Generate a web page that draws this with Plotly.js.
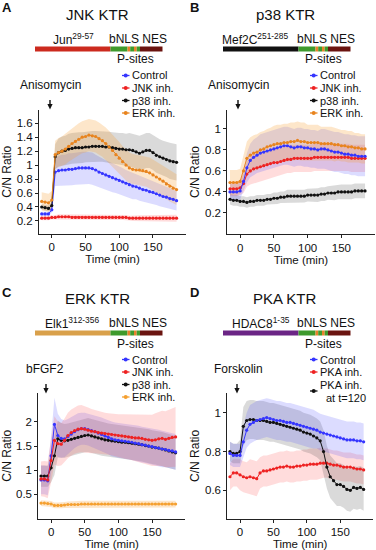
<!DOCTYPE html>
<html><head><meta charset="utf-8">
<script src="https://cdn.plot.ly/plotly-3.0.1.min.js"></script>
<style>html,body{margin:0;padding:0;background:#fff}#chart{width:376px;height:550px}</style>
</head><body><div id="chart"></div>
<script>
// ---------------- DATA ----------------
const time = [-15,-10,-5,0,5,10,15,20,25,30,35,40,45,50,55,60,65,70,75,80,85,90,95,100,105,110,115,120,125,130,135,140,145,150,155,160,165,170,175,180,185];
const xTicks = [0,50,100,150];

// Panel A: JNK KTR
const A_ctrl = [0.30,0.30,0.30,0.36, 0.90,0.92,0.93,0.93,0.94,0.94, 0.95,0.96,0.96,0.96,0.96, 0.95,0.93,0.90,0.88,0.86, 0.84,0.82,0.80,0.78,0.76, 0.74,0.72,0.70,0.69,0.67, 0.65,0.64,0.62,0.61,0.59, 0.57,0.55,0.54,0.52,0.51, 0.49];
const A_ctrl_sd = [0.03,0.03,0.03,0.04, 0.20,0.21,0.22,0.22,0.23,0.23, 0.23,0.23,0.23,0.23,0.23, 0.23,0.22,0.22,0.22,0.21, 0.21,0.21,0.20,0.20,0.20, 0.19,0.19,0.19,0.18,0.18, 0.18,0.17,0.17,0.17,0.16, 0.16,0.16,0.15,0.15,0.15, 0.14];
const A_jnk = [0.24,0.24,0.24,0.25, 0.25,0.26,0.26,0.26,0.26,0.25, 0.25,0.25,0.25,0.25,0.25, 0.25,0.25,0.25,0.25,0.25, 0.25,0.25,0.25,0.25,0.25, 0.25,0.24,0.24,0.24,0.24, 0.24,0.24,0.24,0.24,0.24, 0.24,0.24,0.24,0.24,0.24, 0.24];
const A_jnk_sd = [0.03,0.03,0.03,0.03, 0.03,0.035,0.035,0.035,0.035,0.035, 0.035,0.035,0.035,0.035,0.035, 0.035,0.035,0.035,0.035,0.035, 0.035,0.035,0.035,0.035,0.035, 0.035,0.035,0.04,0.04,0.04, 0.04,0.04,0.04,0.04,0.045, 0.045,0.045,0.045,0.05,0.05, 0.05];
const A_p38 = [0.40,0.39,0.38,0.42, 1.12,1.18,1.20,1.21,1.23,1.24, 1.25,1.25,1.25,1.26,1.26, 1.27,1.27,1.27,1.27,1.26, 1.26,1.25,1.24,1.23,1.23, 1.22,1.22,1.21,1.19,1.17, 1.19,1.21,1.21,1.18,1.14, 1.12,1.10,1.08,1.06,1.05, 1.04];
const A_p38_sd = [0.04,0.04,0.04,0.05, 0.18,0.20,0.21,0.21,0.22,0.22, 0.22,0.22,0.22,0.22,0.22, 0.22,0.22,0.22,0.22,0.22, 0.22,0.22,0.22,0.23,0.23, 0.23,0.24,0.24,0.24,0.25, 0.25,0.25,0.25,0.25,0.25, 0.25,0.25,0.25,0.26,0.26, 0.26];
const A_erk = [0.48,0.47,0.46,0.50, 1.15,1.18,1.20,1.23,1.27,1.31, 1.34,1.37,1.40,1.41,1.43, 1.42,1.41,1.38,1.35,1.31, 1.26,1.21,1.15,1.10,1.05, 1.00,0.96,0.94,0.93,0.93, 0.92,0.91,0.89,0.86,0.83, 0.80,0.77,0.73,0.70,0.67, 0.65];
const A_erk_sd = [0.13,0.13,0.13,0.13, 0.20,0.21,0.21,0.22,0.22,0.22, 0.23,0.23,0.23,0.23,0.23, 0.23,0.23,0.23,0.23,0.23, 0.23,0.23,0.23,0.23,0.22, 0.22,0.22,0.22,0.22,0.22, 0.22,0.22,0.22,0.22,0.22, 0.22,0.22,0.22,0.22,0.22, 0.22];

// Panel B: p38 KTR
const B_ctrl = [0.40,0.40,0.40,0.41, 0.50,0.63,0.70,0.73,0.75,0.77, 0.78,0.79,0.80,0.81,0.82, 0.83,0.84,0.84,0.83,0.82, 0.83,0.83,0.82,0.82,0.81, 0.81,0.80,0.81,0.81,0.80, 0.79,0.78,0.78,0.77,0.76, 0.76,0.75,0.75,0.74,0.74, 0.74];
const B_ctrl_sd = [0.08,0.08,0.08,0.08, 0.10,0.14,0.16,0.17,0.17,0.18, 0.18,0.18,0.18,0.18,0.18, 0.18,0.18,0.18,0.18,0.18, 0.18,0.18,0.18,0.18,0.18, 0.18,0.18,0.19,0.19,0.19, 0.19,0.19,0.19,0.19,0.19, 0.19,0.19,0.19,0.19,0.19, 0.19];
const B_jnk = [0.43,0.43,0.43,0.44, 0.48,0.57,0.60,0.62,0.63,0.64, 0.65,0.66,0.67,0.68,0.68, 0.69,0.70,0.71,0.71,0.72, 0.72,0.72,0.72,0.72,0.72, 0.73,0.73,0.73,0.73,0.73, 0.73,0.73,0.73,0.73,0.73, 0.73,0.72,0.72,0.72,0.72, 0.72];
const B_jnk_sd = [0.07,0.07,0.07,0.07, 0.09,0.12,0.13,0.14,0.14,0.14, 0.14,0.14,0.14,0.14,0.13, 0.13,0.13,0.13,0.13,0.13, 0.13,0.13,0.13,0.13,0.13, 0.13,0.13,0.13,0.13,0.13, 0.13,0.13,0.13,0.13,0.13, 0.13,0.13,0.13,0.13,0.13, 0.13];
const B_p38 = [0.33,0.32,0.32,0.31, 0.31,0.30,0.31,0.31,0.32,0.32, 0.32,0.33,0.33,0.34,0.34, 0.35,0.35,0.36,0.36,0.36, 0.36,0.36,0.36,0.37,0.37, 0.37,0.37,0.38,0.38,0.39, 0.39,0.39,0.40,0.40,0.40, 0.40,0.40,0.41,0.41,0.41, 0.41];
const B_p38_sd = [0.05,0.05,0.05,0.05, 0.05,0.05,0.05,0.05,0.05,0.05, 0.05,0.05,0.05,0.055,0.055, 0.055,0.055,0.06,0.06,0.06, 0.06,0.06,0.06,0.06,0.06, 0.065,0.065,0.065,0.065,0.065, 0.07,0.07,0.07,0.07,0.07, 0.07,0.07,0.07,0.07,0.07, 0.07];
const B_erk = [0.49,0.49,0.49,0.50, 0.60,0.72,0.75,0.77,0.78,0.80, 0.81,0.83,0.84,0.85,0.86, 0.86,0.87,0.87,0.88,0.88, 0.89,0.88,0.88,0.87,0.87, 0.87,0.87,0.86,0.86,0.86, 0.86,0.85,0.85,0.84,0.84, 0.83,0.83,0.82,0.82,0.81, 0.81];
const B_erk_sd = [0.12,0.12,0.12,0.12, 0.14,0.16,0.17,0.17,0.17,0.17, 0.17,0.17,0.17,0.18,0.18, 0.18,0.18,0.18,0.18,0.18, 0.18,0.18,0.18,0.17,0.17, 0.17,0.17,0.16,0.16,0.16, 0.16,0.16,0.15,0.15,0.15, 0.15,0.15,0.14,0.14,0.14, 0.14];

// Panel C: ERK KTR
const C_ctrl = [0.80,0.80,0.78,1.30, 1.95,1.72,1.66,1.65,1.70,1.75, 1.80,1.84,1.86,1.86,1.84, 1.82,1.80,1.77,1.74,1.71, 1.68,1.65,1.63,1.62,1.61, 1.60,1.59,1.58,1.56,1.55, 1.53,1.52,1.50,1.49,1.47, 1.46,1.44,1.43,1.41,1.40, 1.38];
const C_ctrl_sd = [0.30,0.30,0.30,0.40, 0.55,0.45,0.40,0.38,0.36,0.35, 0.34,0.34,0.33,0.33,0.33, 0.33,0.34,0.34,0.35,0.35, 0.35,0.36,0.36,0.36,0.36, 0.36,0.37,0.37,0.37,0.37, 0.37,0.37,0.37,0.38,0.38, 0.38,0.38,0.37,0.37,0.37, 0.37];
const C_jnk = [0.82,0.82,0.80,1.20, 1.62,1.55,1.54,1.62,1.72,1.78, 1.82,1.85,1.86,1.85,1.83, 1.81,1.80,1.78,1.77,1.76, 1.75,1.74,1.73,1.72,1.71, 1.70,1.69,1.68,1.67,1.67, 1.66,1.64,1.63,1.62,1.63, 1.65,1.66,1.64,1.66,1.68, 1.69];
const C_jnk_sd = [0.36,0.37,0.38,0.45, 0.50,0.46,0.44,0.45,0.47,0.48, 0.48,0.49,0.49,0.48,0.47, 0.46,0.45,0.44,0.43,0.43, 0.43,0.43,0.44,0.44,0.45, 0.46,0.46,0.47,0.48,0.49, 0.50,0.51,0.52,0.53,0.55, 0.56,0.57,0.58,0.59,0.61, 0.62];
const C_p38 = [0.88,0.88,0.88,1.05, 1.30,1.65,1.62,1.61,1.62,1.64, 1.66,1.68,1.70,1.72,1.73, 1.71,1.69,1.67,1.65,1.63, 1.62,1.61,1.60,1.59,1.58, 1.58,1.57,1.56,1.55,1.54, 1.53,1.51,1.50,1.48,1.47, 1.46,1.44,1.42,1.40,1.38, 1.36];
const C_p38_sd = [0.22,0.22,0.22,0.30, 0.40,0.38,0.36,0.35,0.35,0.35, 0.35,0.35,0.35,0.35,0.35, 0.35,0.35,0.35,0.35,0.35, 0.35,0.35,0.35,0.35,0.35, 0.35,0.35,0.35,0.35,0.35, 0.35,0.35,0.35,0.35,0.35, 0.35,0.35,0.35,0.35,0.35, 0.35];
const C_erk = [0.32,0.32,0.31,0.30, 0.27,0.27,0.27,0.28,0.29,0.29, 0.29,0.29,0.30,0.30,0.30, 0.30,0.30,0.30,0.30,0.30, 0.30,0.30,0.30,0.30,0.30, 0.30,0.30,0.30,0.30,0.30, 0.30,0.30,0.30,0.30,0.30, 0.30,0.30,0.30,0.30,0.30, 0.30];
const C_erk_sd = [0.06,0.06,0.06,0.06, 0.06,0.06,0.06,0.06,0.06,0.06, 0.07,0.07,0.07,0.07,0.07, 0.07,0.07,0.07,0.07,0.07, 0.07,0.07,0.07,0.07,0.07, 0.07,0.07,0.07,0.07,0.07, 0.07,0.07,0.07,0.07,0.07, 0.07,0.07,0.07,0.07,0.07, 0.07];

// Panel D: PKA KTR
const D_ctrl = [0.79,0.78,0.78,0.78, 0.85,0.91,0.94,0.95,0.96,0.965, 0.97,0.975,0.97,0.965,0.96, 0.96,0.955,0.95,0.95,0.945, 0.94,0.935,0.93,0.925,0.92, 0.915,0.91,0.90,0.895,0.89, 0.885,0.88,0.875,0.87,0.865, 0.86,0.86,0.86,0.855,0.855, 0.85];
const D_ctrl_sd = [0.06,0.06,0.06,0.06, 0.08,0.09,0.10,0.10,0.10,0.10, 0.10,0.10,0.10,0.10,0.10, 0.10,0.10,0.10,0.10,0.10, 0.10,0.10,0.10,0.10,0.10, 0.10,0.095,0.095,0.095,0.095, 0.095,0.095,0.095,0.095,0.095, 0.095,0.095,0.095,0.095,0.095, 0.095];
const D_pka = [0.67,0.69,0.69,0.68, 0.67,0.665,0.67,0.665,0.66,0.69, 0.70,0.70,0.705,0.71,0.715, 0.72,0.72,0.725,0.72,0.72, 0.725,0.725,0.73,0.73,0.735, 0.735,0.735,0.74,0.74,0.74, 0.735,0.73,0.73,0.725,0.72, 0.72,0.72,0.715,0.71,0.71, 0.705];
const D_pka_sd = [0.07,0.07,0.07,0.08, 0.08,0.08,0.09,0.09,0.09,0.08, 0.08,0.08,0.08,0.08,0.08, 0.08,0.08,0.08,0.08,0.08, 0.08,0.08,0.08,0.08,0.08, 0.08,0.08,0.08,0.075,0.075, 0.075,0.075,0.075,0.075,0.075, 0.075,0.075,0.075,0.075,0.075, 0.075];
const D_pka120 = [0.80,0.79,0.79,0.80, 0.93,0.96,0.965,0.965,0.96,0.96, 0.96,0.955,0.95,0.95,0.945, 0.94,0.935,0.93,0.925,0.92, 0.915,0.91,0.90,0.895,0.89, 0.88,0.87,0.855,0.80,0.72, 0.67,0.65,0.63,0.63,0.62, 0.605,0.60,0.615,0.61,0.615, 0.605];
const D_pka120_sd = [0.05,0.05,0.05,0.06, 0.10,0.10,0.10,0.10,0.10,0.10, 0.10,0.10,0.10,0.10,0.10, 0.10,0.10,0.10,0.10,0.10, 0.10,0.10,0.10,0.10,0.10, 0.10,0.10,0.10,0.11,0.11, 0.11,0.11,0.11,0.11,0.11, 0.11,0.11,0.11,0.11,0.11, 0.11];

const legendA = ['Control','JNK inh.','p38 inh.','ERK inh.'];
const legendD = ['Control','PKA inh.','PKA inh.','at t=120'];
const titles = ['JNK KTR','p38 KTR','ERK KTR','PKA KTR'];
const domainLabels = ['Jun<sup>29-57</sup>','Mef2C<sup>251-285</sup>','Elk1<sup>312-356</sup>','HDAC8<sup>1-35</sup>'];
const stimuli = ['Anisomycin','Anisomycin','bFGF2','Forskolin'];
const letters = ['A','B','C','D'];

// ---------------- DRAWING ----------------
const W = 376, H = 550;
const px = x => x / W;
const py = y => 1 - y / H;
const FONT = 'Liberation Sans, Arial, Helvetica, sans-serif';
const COL = {blue:'#3535ff', red:'#ee2222', black:'#111111', orange:'#e8841e', orangeC:'#f5a030'};
const BAND = {blue:'rgba(80,80,255,0.2)', red:'rgba(255,80,80,0.2)', black:'rgba(70,70,70,0.2)', orange:'rgba(248,160,50,0.26)'};

const bandTraces = [], lineTraces = [];
function addSeries(ax, mean, sd, color, band) {
  const up = mean.map((v,i)=>v+sd[i]);
  const lo = mean.map((v,i)=>v-sd[i]);
  const xa = 'x'+ax, ya = 'y'+ax;
  bandTraces.push({x: time.concat(time.slice().reverse()), y: up.concat(lo.slice().reverse()),
    xaxis: xa, yaxis: ya, type:'scatter', mode:'lines', fill:'toself', fillcolor: band,
    line:{width:0}, hoverinfo:'skip', showlegend:false});
  lineTraces.push({x: time, y: mean, xaxis: xa, yaxis: ya, type:'scatter', mode:'lines+markers',
    line:{color: color, width:1}, marker:{color: color, size:3.2}, showlegend:false});
}
addSeries('', A_ctrl, A_ctrl_sd, COL.blue, BAND.blue);
addSeries('', A_jnk, A_jnk_sd, COL.red, BAND.red);
addSeries('', A_p38, A_p38_sd, COL.black, BAND.black);
addSeries('', A_erk, A_erk_sd, COL.orange, BAND.orange);
addSeries('2', B_p38, B_p38_sd, COL.black, BAND.black);
addSeries('2', B_jnk, B_jnk_sd, COL.red, BAND.red);
addSeries('2', B_ctrl, B_ctrl_sd, COL.blue, BAND.blue);
addSeries('2', B_erk, B_erk_sd, COL.orange, BAND.orange);
addSeries('3', C_erk, C_erk_sd, COL.orangeC, BAND.orange);
addSeries('3', C_p38, C_p38_sd, COL.black, BAND.black);
addSeries('3', C_ctrl, C_ctrl_sd, COL.blue, BAND.blue);
addSeries('3', C_jnk, C_jnk_sd, COL.red, BAND.red);
addSeries('4', D_pka, D_pka_sd, COL.red, BAND.red);
addSeries('4', D_pka120, D_pka120_sd, COL.black, BAND.black);
addSeries('4', D_ctrl, D_ctrl_sd, COL.blue, BAND.blue);

const dom = [
  {x:[39,186], y:[110,233.5], yr:[0.02,1.79], yt:[0.2,0.4,0.6,0.8,1,1.2,1.4,1.6]},
  {x:[227.3,374.5], y:[110,234], yr:[0,1.18], yt:[0.2,0.4,0.6,0.8,1]},
  {x:[38.3,185], y:[393,518.5], yr:[0,2.6], yt:[0.5,1,1.5,2]},
  {x:[227.3,373], y:[393.3,518.5], yr:[0.455,1.1], yt:[0.6,0.8,1]}
];
const layout = {width:W, height:H, margin:{l:0,r:0,t:0,b:0}, paper_bgcolor:'#fff', plot_bgcolor:'rgba(0,0,0,0)',
  showlegend:false, font:{family:FONT, color:'#111'}, shapes:[], annotations:[]};
dom.forEach((d,i)=>{
  const s = i===0 ? '' : String(i+1);
  layout['xaxis'+s] = {domain:[px(d.x[0]), px(d.x[1])], anchor:'y'+s, range:[-19,199], tickvals:xTicks,
    ticks:'outside', ticklen:3, tickcolor:'#222', showline:true, linecolor:'#222', linewidth:1,
    showgrid:false, zeroline:false, tickfont:{size:11.5, family:FONT, color:'#111'},
    title:{text:'Time (min)', font:{size:11.5, family:FONT, color:'#111'}, standoff:1}};
  layout['yaxis'+s] = {domain:[py(d.y[1]), py(d.y[0])], anchor:'x'+s, range:d.yr, tickvals:d.yt,
    ticks:'outside', ticklen:3, tickcolor:'#222', showline:true, linecolor:'#222', linewidth:1,
    showgrid:false, zeroline:false, tickfont:{size:11.5, family:FONT, color:'#111'},
    title:{text:'C/N Ratio', font:{size:12, family:FONT, color:'#111'}, standoff:2}};
});

function ann(text, x, y, o) {
  return Object.assign({text:text, x:px(x), y:py(y), xref:'paper', yref:'paper', showarrow:false,
    xanchor:'center', yanchor:'middle', borderpad:0, font:{family:FONT, size:12, color:'#111'}}, o||{});
}
function rect(x0,x1,y0,y1,color){
  return {type:'rect', xref:'paper', yref:'paper', x0:px(x0), x1:px(x1), y0:py(y1), y1:py(y0), fillcolor:color, line:{width:0}};
}
const barColors = ['#cc2a1e','#111111','#d9a04a','#6b2585'];
const labelX = [73,67,72,73];
const stimX = [50,50,45,50];
const arrowX = [50,50,46,49];
const offsets = [[0,0],[188,0],[0,284],[188,284]];
const legendColors = [COL.blue, COL.red, COL.black, COL.orange];
const LEGFONT = {family:FONT, size:11, color:'#111'};

offsets.forEach((o,i)=>{
  const ox=o[0], oy=o[1];
  const A = layout.annotations, S = layout.shapes;
  A.push(ann('<b>'+letters[i]+'</b>', ox+1, oy+8, {xanchor:'left', font:{family:FONT, size:13, color:'#111'}}));
  A.push(ann(titles[i], ox+97, oy+15, {font:{family:FONT, size:15, color:'#111'}}));
  A.push(ann(domainLabels[i], ox+labelX[i], oy+39));
  A.push(ann('bNLS NES', ox+138, oy+39));
  A.push(ann('P-sites', ox+135.5, oy+59.5));
  // construct bar
  S.push(rect(ox+35, ox+110.5, oy+46.5, oy+51.5, barColors[i]));
  S.push(rect(ox+110.5, ox+127.5, oy+46.5, oy+51.5, '#3f9a2c'));
  S.push(rect(ox+127.5, ox+130.2, oy+46.5, oy+51.5, '#e8822a'));
  S.push(rect(ox+130.2, ox+134, oy+46.5, oy+51.5, '#3f9a2c'));
  S.push(rect(ox+134, ox+136.7, oy+46.5, oy+51.5, '#e8822a'));
  S.push(rect(ox+136.7, ox+140, oy+46.5, oy+51.5, '#3f9a2c'));
  S.push(rect(ox+140, ox+162.5, oy+46.5, oy+51.5, '#6a1410'));
  // stimulus label + arrow (shapes)
  A.push(ann(stimuli[i], ox+stimX[i], oy+85));
  const ax = ox+arrowX[i];
  S.push({type:'line', xref:'paper', yref:'paper', x0:px(ax), x1:px(ax), y0:py(oy+100), y1:py(oy+105), line:{color:'#111', width:1.4}});
  S.push({type:'path', xref:'paper', yref:'paper', fillcolor:'#111', line:{width:0},
    path:'M '+px(ax-2.6)+' '+py(oy+104)+' L '+px(ax+2.6)+' '+py(oy+104)+' L '+px(ax)+' '+py(oy+109.5)+' Z'});
  // legend
  const rows = [75.5, 88, 100.5, 113];
  const n = (i===3) ? 3 : 4;
  for (let k=0;k<n;k++){
    let c = legendColors[k];
    if (i===2 && k===3) c = COL.orangeC;
    let ry = oy + rows[k];
    if (i===3 && k===2) ry = oy + 107;
    S.push({type:'line', xref:'paper', yref:'paper', x0:px(ox+122), x1:px(ox+129.5), y0:py(ry), y1:py(ry), line:{color:c, width:1.3}});
    S.push({type:'circle', xref:'paper', yref:'paper', x0:px(ox+123.7), x1:px(ox+127.7), y0:py(ry+2), y1:py(ry-2), fillcolor:c, line:{width:0}});
    if (i===3 && k===2) {
      A.push(ann(legendD[2], ox+131, oy+101, {xanchor:'left', font:LEGFONT}));
      A.push(ann(legendD[3], ox+137, oy+113.5, {xanchor:'left', font:LEGFONT}));
    } else {
      A.push(ann(i===3 ? legendD[k] : legendA[k], ox+130.5, ry, {xanchor:'left', font:LEGFONT}));
    }
  }
});

Plotly.newPlot('chart', bandTraces.concat(lineTraces), layout, {staticPlot:true, displayModeBar:false});
</script>
</body></html>
